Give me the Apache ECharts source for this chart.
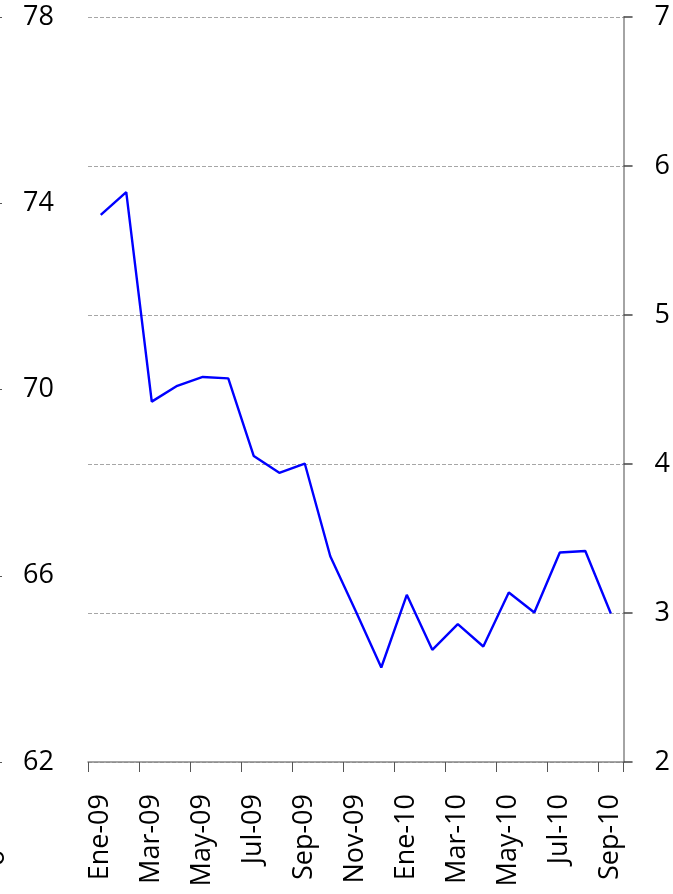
<!DOCTYPE html>
<html>
<head>
<meta charset="utf-8">
<script src="https://cdn.jsdelivr.net/npm/echarts@6/dist/echarts.min.js"></script>
<style>
html,body{margin:0;padding:0;background:#fff;}
#chart{width:673px;height:894px;}
</style>
</head>
<body>
<div id="chart"></div>
<script>
const categories = ['Ene-09','Feb-09','Mar-09','Abr-09','May-09','Jun-09','Jul-09','Ago-09','Sep-09','Oct-09','Nov-09','Dic-09',
  'Ene-10','Feb-10','Mar-10','Abr-10','May-10','Jun-10','Jul-10','Ago-10','Sep-10'];
const values = [73.75, 74.24, 69.74, 70.08, 70.27, 70.24, 68.57, 68.21, 68.41, 66.42, 65.24, 64.03,
  65.59, 64.41, 64.96, 64.48, 65.64, 65.21, 66.50, 66.53, 65.19];
const leftAxisRange = [62, 78, 4];
const rightAxisRange = [2, 7, 1];

const font = '"Open Sans", "Liberation Sans", sans-serif';
const chart = echarts.init(document.getElementById('chart'), null, {renderer: 'canvas'});
chart.setOption({
  backgroundColor: '#ffffff',
  animation: false,
  grid: {left: 88, right: 47, top: 17, bottom: 132, containLabel: false},
  xAxis: {
    type: 'category',
    data: categories,
    boundaryGap: true,
    axisLine: {show: true, lineStyle: {color: '#868686', width: 1.5}},
    axisTick: {show: true, interval: 1, length: 10, lineStyle: {color: '#555555', width: 1}},
    axisLabel: {interval: 1, rotate: 90, margin: 32, color: '#000', fontSize: 27, fontFamily: font},
    splitLine: {show: false}
  },
  yAxis: [
    {
      type: 'value', position: 'left', offset: 91,
      min: leftAxisRange[0], max: leftAxisRange[1], interval: leftAxisRange[2],
      axisLine: {show: false},
      axisTick: {show: true, inside: true, length: 5, lineStyle: {color: '#555'}},
      axisLabel: {inside: true, margin: 26, color: '#000', fontSize: 27, fontFamily: font},
      splitLine: {show: false}
    },
    {
      type: 'value', position: 'right',
      min: rightAxisRange[0], max: rightAxisRange[1], interval: rightAxisRange[2],
      axisLine: {show: true, lineStyle: {color: '#868686', width: 1.5}},
      axisTick: {show: true, length: 9, lineStyle: {color: '#444', width: 1.5}},
      axisLabel: {margin: 31, color: '#000', fontSize: 27, fontFamily: font},
      splitLine: {show: true, lineStyle: {color: '#a6a6a6', type: [4, 2], width: 1}}
    }
  ],
  series: [{
    type: 'line',
    yAxisIndex: 0,
    data: values,
    symbol: 'none',
    lineStyle: {color: '#0000ff', width: 2.4},
    itemStyle: {color: '#0000ff'}
  }],
  graphic: [{
    type: 'text',
    x: -4, y: 858,
    rotation: Math.PI / 2,
    style: {text: 'o', font: '27px ' + font, fill: '#000', textAlign: 'center', textVerticalAlign: 'middle'}
  }]
});
</script>
</body>
</html>
